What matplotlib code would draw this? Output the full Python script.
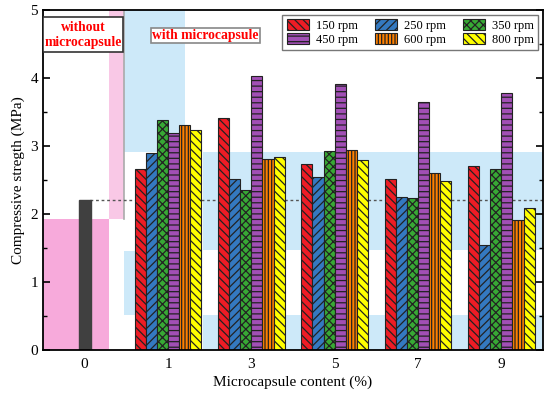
import matplotlib
matplotlib.use('Agg')
import matplotlib.pyplot as plt
import numpy as np
from matplotlib.patches import Rectangle

plt.rcParams['font.family'] = ['Liberation Serif', 'DejaVu Serif']
plt.rcParams['hatch.linewidth'] = 0.9

# data
contents = ['0', '1', '3', '5', '7', '9']
speeds = ['150 rpm', '250 rpm', '350 rpm', '450 rpm', '600 rpm', '800 rpm']
plain = 2.20  # reference, without microcapsule
s150 = [2.66, 3.41, 2.73, 2.52, 2.70]
s250 = [2.89, 2.51, 2.54, 2.25, 1.54]
s350 = [3.38, 2.35, 2.93, 2.23, 2.66]
s450 = [3.19, 4.03, 3.91, 3.64, 3.78]
s600 = [3.31, 2.81, 2.94, 2.61, 1.91]
s800 = [3.24, 2.84, 2.80, 2.48, 2.09]
series = [s150, s250, s350, s450, s600, s800]

colors = ['#ee1c25', '#3479c0', '#38a935', '#a14fb5', '#ff8000', '#ffff00']
hatches = ['\\\\\\\\', '////', 'xxxx', '---', '|||||', '\\\\\\\\']

fig = plt.figure(figsize=(5.5, 3.95), dpi=100)
ax = fig.add_axes([43 / 550, 45 / 395, 500 / 550, 340 / 395])

# background shading
pink = '#f7aadb'
pink2 = '#f9c8e6'
blue = '#cde9f9'
bg = [
    ((-0.5, 0.0), 0.79, 1.92, pink),
    ((0.29, 1.92), 0.18, 3.08, pink2),
    ((0.47, 2.91), 0.73, 2.09, blue),
    ((0.47, 0.51), 0.73, 0.95, blue),
    ((1.42, 1.47), 4.08, 1.44, blue),
    ((1.42, 0.0), 4.08, 0.51, blue),
]
for xy, w, h, c in bg:
    ax.add_patch(Rectangle(xy, w, h, facecolor=c, edgecolor='none', zorder=0))
ax.plot([0.47, 0.47], [1.92, 5], color='#aaaaaa', lw=1.2, zorder=0.5)

# bars
width = 0.8 / 6
x = np.arange(1, len(contents))
ax.bar(0, plain, width=width * 1.05, color='#404040', edgecolor='#404040', zorder=2)
handles = []
for i, (vals, c, h) in enumerate(zip(series, colors, hatches)):
    b = ax.bar(x - 0.4 + width * (i + 0.5), vals, width=width, color=c,
               edgecolor='#222222', linewidth=0.8, hatch=h, zorder=2, label=speeds[i])
    handles.append(b)

ax.plot([0.07, 5.5], [plain, plain], color='#555555', lw=1.0,
        linestyle=(0, (2, 2)), zorder=1.5)

# label boxes
ax.add_patch(Rectangle((-0.5, 4.38), 0.96, 0.52, facecolor='white',
                       edgecolor='#333333', lw=1.2, zorder=3))
ax.text(-0.02, 4.635, 'without\nmicrocapsule', color='red', fontweight='bold',
        fontsize=9.8, ha='center', va='center', linespacing=1.2, zorder=4)
ax.add_patch(Rectangle((0.8, 4.515), 1.3, 0.22, facecolor='white',
                       edgecolor='#888888', lw=1.2, zorder=3))
ax.text(1.45, 4.625, 'with microcapsule', color='red', fontweight='bold',
        fontsize=9.8, ha='center', va='center', zorder=4)

ax.set_xlim(-0.5, 5.5)
ax.set_ylim(0, 5)
ax.set_xticks(range(len(contents)))
ax.set_xticklabels(contents)
ax.set_yticks(range(6))
ax.set_yticks(np.arange(0.5, 5, 1), minor=True)
ax.tick_params(axis='x', length=0, labelsize=11, pad=6)
ax.tick_params(axis='y', which='both', direction='in', right=True, labelsize=11)
ax.tick_params(axis='y', which='major', length=5, width=1.2)
ax.tick_params(axis='y', which='minor', length=3, width=1.0)
for s in ax.spines.values():
    s.set_linewidth(1.3)

ax.set_xlabel('Microcapsule content (%)', fontsize=11, labelpad=3)
ax.set_ylabel('Compressive stregth (MPa)', fontsize=11)

# legend filled row-wise
order = [0, 3, 1, 4, 2, 5]
leg = ax.legend([handles[i] for i in order], [speeds[i] for i in order],
                ncol=3, loc='upper right', fontsize=9, frameon=True,
                fancybox=False, edgecolor='#777777', framealpha=1,
                handlelength=1.75, handleheight=0.9, handletextpad=0.55,
                columnspacing=1.4, labelspacing=0.12, borderaxespad=0.4,
                borderpad=0.35)
leg.get_frame().set_linewidth(1.0)
leg.set_zorder(5)

fig.savefig('out.png', dpi=100)
